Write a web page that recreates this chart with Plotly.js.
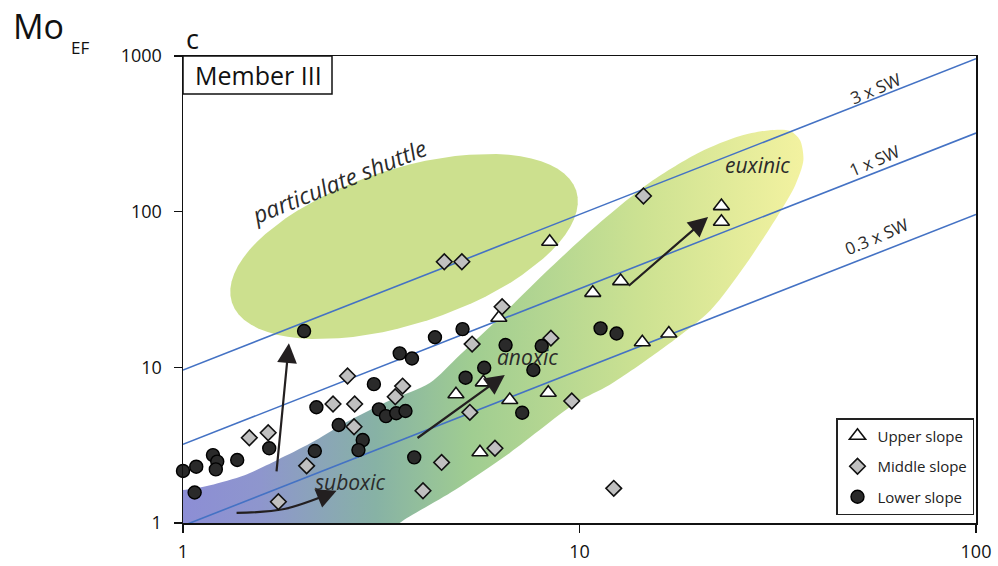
<!DOCTYPE html>
<html><head><meta charset="utf-8">
<script src="https://cdn.plot.ly/plotly-3.0.1.min.js"></script>
<style>html,body{margin:0;padding:0;background:#fff}#chart{width:998px;height:566px}</style>
</head><body><div id="chart"></div>
<script>
// ---------- DATA (U_EF, Mo_EF) ----------
const seriesNames = ['Upper slope', 'Middle slope', 'Lower slope'];

const upperU  = [8.41, 10.8, 12.7, 6.26, 14.4, 16.8, 4.88, 5.72, 6.67, 8.34, 5.61, 22.8, 22.8];
const upperMo = [64.1, 30.1, 35.8, 20.8, 14.5, 16.5, 6.71, 8.01, 6.17, 6.87, 2.85, 108.6, 86.1];

const middleU  = [2.60, 3.58, 3.43, 2.39, 2.71, 2.70, 1.47, 1.64, 2.05, 1.74, 4.03, 4.56, 5.05, 6.38, 8.47, 5.36, 5.29, 9.56, 6.12, 4.49, 12.2, 14.5];
const middleMo = [8.79, 7.58, 6.47, 5.81, 5.81, 4.15, 3.53, 3.80, 2.33, 1.37, 1.61, 47.7, 47.7, 24.5, 15.4, 14.1, 5.14, 6.08, 3.02, 2.45, 1.67, 126];

const lowerU  = [2.02, 3.52, 3.78, 3.03, 2.17, 3.12, 3.25, 3.45, 3.64, 2.47, 2.84, 2.77, 1.65, 2.15, 1.19, 1.22, 1.21, 1.37, 1.00, 1.08, 1.07, 3.83, 4.32, 5.07, 6.51, 8.03, 5.75, 5.16, 7.65, 7.17, 11.3, 12.4];
const lowerMo = [17.1, 12.3, 11.4, 7.8, 5.54, 5.37, 4.86, 5.07, 5.24, 4.26, 3.41, 2.94, 3.02, 2.90, 2.73, 2.48, 2.21, 2.54, 2.16, 2.30, 1.57, 2.64, 15.6, 17.6, 13.9, 13.7, 9.94, 8.58, 9.61, 5.11, 17.8, 16.5];

// Seawater Mo/U reference lines (multiples of SW ratio)
const swRatio = 3.2;
const swFactors = [3, 1, 0.3];
const swLabels = ['3 x SW', '1 x SW', '0.3 x SW'];
const swLabelU  = [55.7, 55.4, 56.1];
const swLabelMo = [622, 214, 69.7];
const axisU = [1, 100];

// Tick labels
const xTicks = [1, 10, 100];
const yTicks = [1, 10, 100, 1000];

// Field outline of the suboxic-anoxic-euxinic trend band (U_EF, Mo_EF)
const bandU  = [0.9, 1.0, 1.17, 1.43, 1.73, 2.10, 2.56, 3.34, 4.19, 4.99, 6.30, 8.43, 11.3, 15.1, 20.1, 25.4, 30.2, 34.0, 36.0, 36.7, 35.0, 31.7, 26.2, 21.4, 16.0, 11.9, 9.86, 6.67, 4.85, 3.52, 3.3, 0.9];
const bandMo = [1.63, 1.63, 1.75, 2.03, 2.54, 3.26, 4.39, 6.17, 7.93, 12.0, 21.0, 43.4, 85.7, 155, 241, 306, 334, 330, 288, 214, 148, 95.1, 45.4, 23.3, 12.9, 7.70, 5.98, 2.82, 1.63, 1.0, 0.85, 0.85];

// Particulate shuttle field: centre (U_EF, Mo_EF), semi-axes in px, tilt in degrees
const shuttleCentre = [3.61, 59.7];
const shuttleAxes = [181, 77.5];
const shuttleTilt = 18;

// Region labels
const regionText = ['particulate shuttle', 'euxinic', 'anoxic', 'suboxic'];
const regionU  = [2.48, 28.1, 7.41, 2.63];
const regionMo = [157, 199, 11.6, 1.83];
const regionAngle = [-22, 0, 0, 0];

// Trend arrows: tail (U, Mo) -> tip (U, Mo)
const arrowTailU  = [1.72, 3.87, 13.2, 2.24];
const arrowTailMo = [2.1, 3.46, 32.8, 1.47];
const arrowTipU   = [1.85, 6.48, 21.1, 2.44];
const arrowTipMo  = [14.3, 8.92, 92.3, 1.61];
// curved suboxic arrow shaft
const curveU  = [1.365, 1.80, 2.34];
const curveMo = [1.16, 1.23, 1.54];

// ---------- LAYOUT GEOMETRY ----------
const M = {l: 183, r: 22, t: 56, b: 43};
const W = 998 - M.l - M.r, H = 566 - M.t - M.b;
const xDec = W / 2, yDec = H / 3;
const L = Math.log10;

// ellipse outline for shuttle field
const ellU = [], ellMo = [];
{
  const th = shuttleTilt * Math.PI / 180;
  for (let i = 0; i <= 72; i++) {
    const t = i / 72 * 2 * Math.PI;
    const dx = shuttleAxes[0] * Math.cos(t) * Math.cos(th) - shuttleAxes[1] * Math.sin(t) * Math.sin(th);
    const dy = shuttleAxes[0] * Math.cos(t) * Math.sin(th) + shuttleAxes[1] * Math.sin(t) * Math.cos(th);
    ellU.push(Math.pow(10, L(shuttleCentre[0]) + dx / xDec));
    ellMo.push(Math.pow(10, L(shuttleCentre[1]) + dy / yDec));
  }
}

const FONT = '"Open Sans", "Noto Sans", sans-serif';
const traces = [];

traces.push({
  x: ellU, y: ellMo, mode: 'lines', fill: 'toself',
  fillcolor: 'rgb(204,224,142)', line: {width: 0}, hoverinfo: 'skip', showlegend: false
});
traces.push({
  x: bandU, y: bandMo, mode: 'lines', fill: 'toself',
  line: {width: 0, shape: 'spline', smoothing: 0.8}, hoverinfo: 'skip', showlegend: false,
  fillgradient: {type: 'horizontal', colorscale: [
    [0, 'rgb(140,140,215)'], [0.15, 'rgb(142,150,205)'], [0.33, 'rgb(135,178,165)'],
    [0.48, 'rgb(160,205,145)'], [0.75, 'rgb(205,226,146)'], [1, 'rgb(243,242,160)']]}
});
swFactors.forEach(f => {
  traces.push({
    x: axisU, y: axisU.map(u => u * f * swRatio), mode: 'lines',
    line: {color: 'rgb(68,114,196)', width: 1.6}, hoverinfo: 'skip', showlegend: false
  });
});
traces.push({
  x: curveU, y: curveMo, mode: 'lines', line: {color: '#231f20', width: 2.2, shape: 'spline'},
  hoverinfo: 'skip', showlegend: false
});

const markerStyles = [
  {symbol: 'triangle-up', size: 14, color: '#ffffff', line: {color: '#111', width: 1.6}},
  {symbol: 'diamond', size: 12, color: '#c0c0c0', line: {color: '#111', width: 1.6}},
  {symbol: 'circle', size: 13, color: '#2a2a2a', line: {color: '#000', width: 1.4}}
];
const sets = [[upperU, upperMo], [middleU, middleMo], [lowerU, lowerMo]];
sets.forEach((s, i) => {
  traces.push({
    x: s[0], y: s[1], mode: 'markers', name: seriesNames[i], legendgroup: 'g' + i,
    marker: markerStyles[i], cliponaxis: false
  });
});

const annotations = [];
// region labels
regionText.forEach((t, i) => {
  annotations.push({
    x: L(regionU[i]), y: L(regionMo[i]), xref: 'x', yref: 'y', text: '<i>' + t + '</i>',
    showarrow: false, textangle: regionAngle[i],
    font: {family: FONT, size: i === 0 ? 23 : 21, color: '#2b2b2b'}
  });
});
// SW labels
swLabels.forEach((t, i) => {
  annotations.push({
    x: L(swLabelU[i]), y: L(swLabelMo[i]), xref: 'x', yref: 'y', text: t,
    showarrow: false, textangle: -23, font: {family: FONT, size: 17, color: '#2b2b2b'}
  });
});
// arrows
arrowTipU.forEach((u, i) => {
  annotations.push({
    x: L(u), y: L(arrowTipMo[i]), ax: L(arrowTailU[i]), ay: L(arrowTailMo[i]),
    xref: 'x', yref: 'y', axref: 'x', ayref: 'y', text: '', showarrow: true,
    arrowhead: 2, arrowsize: 1.8, arrowwidth: 2.2, arrowcolor: '#231f20', standoff: 0, startstandoff: 0
  });
});
// axis title & panel labels
annotations.push({xref: 'paper', yref: 'paper', x: (11 - M.l) / W, y: (566 - M.b - 26) / H,
  xanchor: 'left', yanchor: 'middle', text: 'Mo', showarrow: false,
  font: {family: FONT, size: 34, color: '#111'}});
annotations.push({xref: 'paper', yref: 'paper', x: (69 - M.l) / W, y: (566 - M.b - 47) / H,
  xanchor: 'left', yanchor: 'middle', text: 'EF', showarrow: false,
  font: {family: FONT, size: 17, color: '#111'}});
annotations.push({xref: 'paper', yref: 'paper', x: (184 - M.l) / W, y: (566 - M.b - 39) / H,
  xanchor: 'left', yanchor: 'middle', text: 'c', showarrow: false,
  font: {family: FONT, size: 27, color: '#111'}});
annotations.push({xref: 'paper', yref: 'paper', x: (258 - M.l) / W, y: (566 - M.b - 75) / H,
  xanchor: 'center', yanchor: 'middle', text: 'Member III', showarrow: false,
  font: {family: FONT, size: 25, color: '#111'}});

const shapes = [{
  type: 'rect', xref: 'paper', yref: 'paper', x0: 0, x1: (332 - M.l) / W,
  y0: (566 - M.b - 94) / H, y1: 1, fillcolor: '#fff', line: {color: '#111', width: 1.5}, layer: 'above'
}];

const axisCommon = {
  type: 'log', showgrid: false, zeroline: false, showline: true, mirror: true,
  linecolor: '#111', linewidth: 1.5, ticks: 'outside', ticklen: 8, tickwidth: 1.5, tickcolor: '#111',
  tickfont: {family: FONT, size: 18, color: '#111'}, tickmode: 'array', fixedrange: true
};

const layout = {
  width: 998, height: 566, margin: M, paper_bgcolor: '#fff', plot_bgcolor: 'rgba(0,0,0,0)',
  xaxis: Object.assign({}, axisCommon, {range: [0, 2], tickvals: xTicks, ticktext: xTicks.map(String), ticklabelstandoff: 4}),
  yaxis: Object.assign({}, axisCommon, {range: [0, 3], tickvals: yTicks, ticktext: yTicks.map(String), ticklabelstandoff: 8}),
  showlegend: true,
  legend: {
    x: (836 - M.l) / W, y: (566 - M.b - 418) / H, xanchor: 'left', yanchor: 'top',
    bgcolor: '#fff', bordercolor: '#222', borderwidth: 1.5, tracegroupgap: 8,
    font: {family: FONT, size: 15, color: '#222'}, traceorder: 'grouped'
  },
  annotations: annotations, shapes: shapes
};

Plotly.newPlot('chart', traces, layout, {staticPlot: true, displayModeBar: false});
</script>
</body></html>
